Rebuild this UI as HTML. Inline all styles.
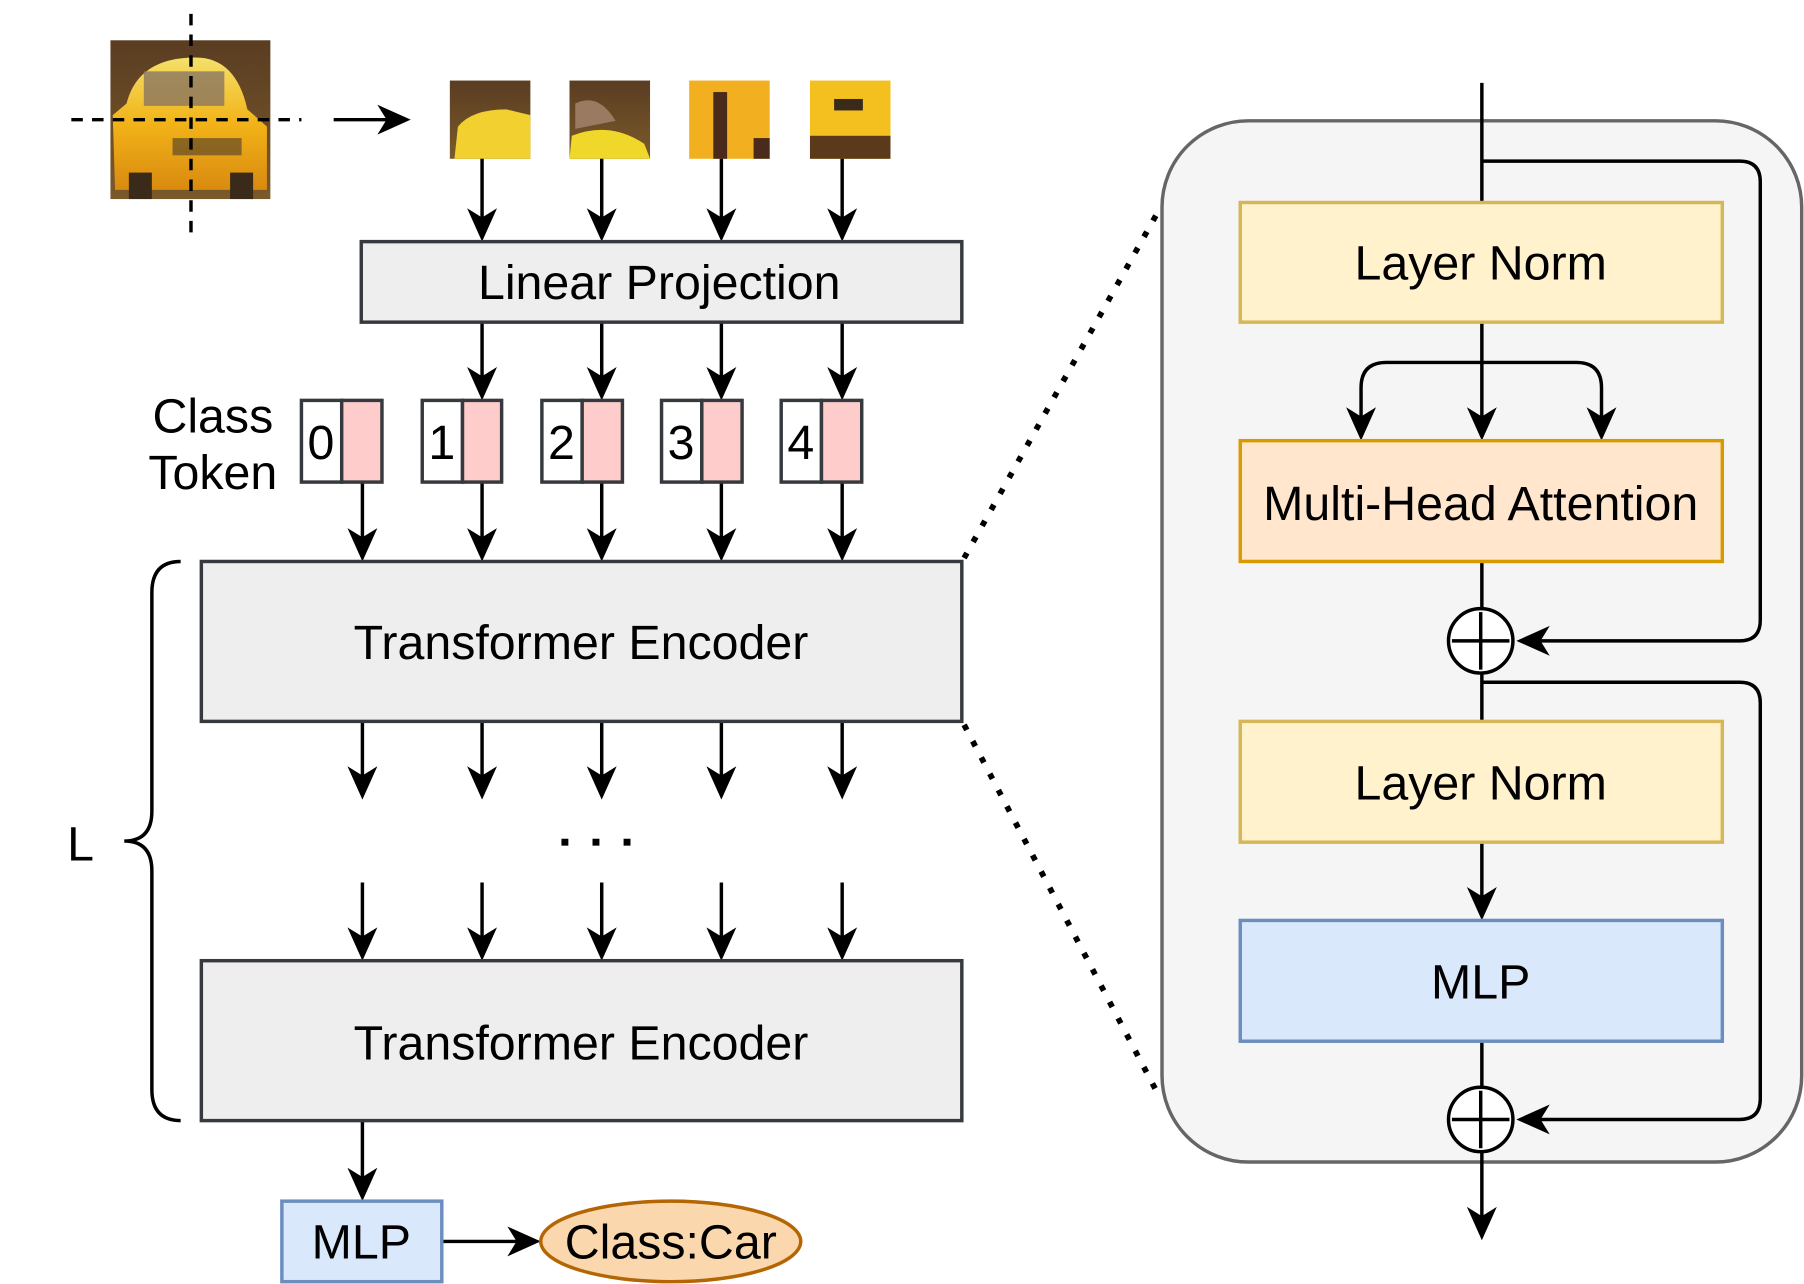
<!DOCTYPE html>
<html><head><meta charset="utf-8"><style>
html,body{margin:0;padding:0;background:#fff;}
svg{display:block;}
text{font-family:"Liberation Sans",sans-serif;fill:#000;}
</style></head><body>
<svg width="1804" height="1284" viewBox="0 0 1568 1116" xmlns="http://www.w3.org/2000/svg">
<defs>
<linearGradient id="bg" x1="0" y1="0" x2="0" y2="1"><stop offset="0" stop-color="#5a3d22"/><stop offset="1" stop-color="#7a5a2a"/></linearGradient>
<linearGradient id="car" x1="0" y1="0" x2="0" y2="1"><stop offset="0" stop-color="#f4e06a"/><stop offset="0.5" stop-color="#f2b318"/><stop offset="1" stop-color="#d98a10"/></linearGradient>
</defs>
<rect x="96" y="35" width="139" height="138" fill="url(#bg)"/>
<path d="M110 90 Q120 50 170 50 Q205 50 215 95 L232 110 L232 165 L100 165 L98 100 Z" fill="url(#car)"/>
<rect x="125" y="62" width="70" height="30" fill="#8a7660" opacity="0.8"/>
<rect x="150" y="120" width="60" height="15" fill="#4a3a2a" opacity="0.6"/>
<rect x="112" y="150" width="20" height="23" fill="#3a2a1a"/>
<rect x="200" y="150" width="20" height="23" fill="#3a2a1a"/>
<g>
<rect x="391" y="70" width="70" height="68" fill="url(#bg)"/>
<path d="M395 138 L398 110 Q410 95 440 95 L461 100 L461 138 Z" fill="#f2d030"/>
<rect x="495" y="70" width="70" height="68" fill="url(#bg)"/>
<path d="M495 138 L497 118 Q530 105 560 125 L565 138 Z" fill="#f0d82a"/>
<path d="M500 90 Q520 80 535 105 L500 112 Z" fill="#9a7a60"/>
<rect x="599" y="70" width="70" height="68" fill="#f2b020"/>
<rect x="620" y="80" width="12" height="58" fill="#4a2a1a"/>
<rect x="655" y="120" width="14" height="18" fill="#4a2a1a"/>
<rect x="704" y="70" width="70" height="68" fill="#f4c020"/>
<rect x="704" y="118" width="70" height="20" fill="#5a3a1a"/>
<rect x="725" y="86" width="25" height="10" fill="#3a2a1a"/>
</g>
<g stroke="#000" stroke-width="3" stroke-dasharray="10,8" fill="none">
<line x1="166" y1="12" x2="166" y2="210"/>
<line x1="62" y1="104" x2="262" y2="104"/>
</g>
<g stroke="#000" stroke-width="3" fill="none">
<line x1="290" y1="104" x2="345" y2="104"/>
</g>
<path d="M357 104 L328 91 L336 104 L328 117 Z" fill="#000"/>
<g stroke="#000" stroke-width="3">
<line x1="419" y1="138" x2="419" y2="200"/><line x1="523" y1="138" x2="523" y2="200"/><line x1="627" y1="138" x2="627" y2="200"/><line x1="732" y1="138" x2="732" y2="200"/>
<line x1="419" y1="280" x2="419" y2="338"/><line x1="523" y1="280" x2="523" y2="338"/><line x1="627" y1="280" x2="627" y2="338"/><line x1="732" y1="280" x2="732" y2="338"/>
<line x1="315" y1="419" x2="315" y2="478"/><line x1="419" y1="419" x2="419" y2="478"/><line x1="523" y1="419" x2="523" y2="478"/><line x1="627" y1="419" x2="627" y2="478"/><line x1="732" y1="419" x2="732" y2="478"/>
<line x1="315" y1="627" x2="315" y2="685"/><line x1="419" y1="627" x2="419" y2="685"/><line x1="523" y1="627" x2="523" y2="685"/><line x1="627" y1="627" x2="627" y2="685"/><line x1="732" y1="627" x2="732" y2="685"/>
<line x1="315" y1="767" x2="315" y2="825"/><line x1="419" y1="767" x2="419" y2="825"/><line x1="523" y1="767" x2="523" y2="825"/><line x1="627" y1="767" x2="627" y2="825"/><line x1="732" y1="767" x2="732" y2="825"/>
<line x1="315" y1="974" x2="315" y2="1034"/>
<line x1="384" y1="1079" x2="460" y2="1079"/>
</g>
<g fill="#000">
<path id="h" d="M0 0 L-13 -29 L0 -21 L13 -29 Z" transform="translate(419,210)"/>
<use href="#h" transform="translate(104,0)"/><use href="#h" transform="translate(208,0)"/><use href="#h" transform="translate(313,0)"/>
<use href="#h" transform="translate(0,138)"/><use href="#h" transform="translate(104,138)"/><use href="#h" transform="translate(208,138)"/><use href="#h" transform="translate(313,138)"/>
<use href="#h" transform="translate(-104,278)"/><use href="#h" transform="translate(0,278)"/><use href="#h" transform="translate(104,278)"/><use href="#h" transform="translate(208,278)"/><use href="#h" transform="translate(313,278)"/>
<use href="#h" transform="translate(-104,485)"/><use href="#h" transform="translate(0,485)"/><use href="#h" transform="translate(104,485)"/><use href="#h" transform="translate(208,485)"/><use href="#h" transform="translate(313,485)"/>
<use href="#h" transform="translate(-104,625)"/><use href="#h" transform="translate(0,625)"/><use href="#h" transform="translate(104,625)"/><use href="#h" transform="translate(208,625)"/><use href="#h" transform="translate(313,625)"/>
<use href="#h" transform="translate(-104,834)"/>
<path d="M470 1079 L441 1066 L449 1079 L441 1092 Z"/>
</g>
<rect x="314" y="210" width="522" height="70" fill="#eeeeee" stroke="#36393d" stroke-width="3"/>
<text x="573" y="260" font-size="42" text-anchor="middle">Linear Projection</text>
<text x="185" y="376" font-size="42" text-anchor="middle">Class</text>
<text x="185" y="425" font-size="42" text-anchor="middle">Token</text>
<g stroke="#36393d" stroke-width="3">
<rect x="262" y="348" width="35" height="71" fill="#fff"/><rect x="297" y="348" width="35" height="71" fill="#ffcccc"/>
<rect x="367" y="348" width="35" height="71" fill="#fff"/><rect x="402" y="348" width="34" height="71" fill="#ffcccc"/>
<rect x="471" y="348" width="35" height="71" fill="#fff"/><rect x="506" y="348" width="35" height="71" fill="#ffcccc"/>
<rect x="575" y="348" width="35" height="71" fill="#fff"/><rect x="610" y="348" width="35" height="71" fill="#ffcccc"/>
<rect x="679" y="348" width="35" height="71" fill="#fff"/><rect x="714" y="348" width="35" height="71" fill="#ffcccc"/>
</g>
<g font-size="42" text-anchor="middle">
<text x="279" y="399">0</text><text x="384" y="399">1</text><text x="488" y="399">2</text><text x="592" y="399">3</text><text x="696" y="399">4</text>
</g>
<rect x="175" y="488" width="661" height="139" fill="#eeeeee" stroke="#36393d" stroke-width="3"/>
<text x="505" y="573" font-size="42" text-anchor="middle">Transformer Encoder</text>
<rect x="175" y="835" width="661" height="139" fill="#eeeeee" stroke="#36393d" stroke-width="3"/>
<text x="505" y="921" font-size="42" text-anchor="middle">Transformer Encoder</text>
<g fill="#000"><rect x="488" y="729" width="6" height="6"/><rect x="515" y="729" width="6" height="6"/><rect x="542" y="729" width="6" height="6"/></g>
<path d="M157 488 Q132 488 132 515 L132 705 Q132 731 108 731 Q132 731 132 757 L132 947 Q132 974 157 974" fill="none" stroke="#000" stroke-width="3"/>
<text x="70" y="748" font-size="42" text-anchor="middle">L</text>
<rect x="245" y="1044" width="139" height="70" fill="#dae8fc" stroke="#6c8ebf" stroke-width="3"/>
<text x="314" y="1094" font-size="42" text-anchor="middle">MLP</text>
<ellipse cx="583" cy="1079" rx="113" ry="35" fill="#fad7ac" stroke="#b46504" stroke-width="3"/>
<text x="583" y="1094" font-size="42" text-anchor="middle">Class:Car</text>
<g stroke="#000" stroke-width="5" stroke-dasharray="5,11" fill="none">
<line x1="838" y1="485" x2="1006" y2="185"/>
<line x1="838" y1="630" x2="1006" y2="950"/>
</g>
<rect x="1010" y="105" width="556" height="905" rx="75" fill="#f5f5f5" stroke="#666" stroke-width="3"/>
<g stroke="#000" stroke-width="3" fill="none">
<line x1="1288" y1="72" x2="1288" y2="176"/>
<line x1="1288" y1="280" x2="1288" y2="372"/>
<path d="M1288 315 L1205 315 Q1183 315 1183 337 L1183 372"/>
<path d="M1288 315 L1370 315 Q1392 315 1392 337 L1392 372"/>
<line x1="1288" y1="488" x2="1288" y2="529"/>
<line x1="1288" y1="585" x2="1288" y2="627"/>
<line x1="1288" y1="732" x2="1288" y2="790"/>
<line x1="1288" y1="905" x2="1288" y2="945"/>
<line x1="1288" y1="1001" x2="1288" y2="1068"/>
<path d="M1288 140 L1512 140 Q1530 140 1530 158 L1530 539 Q1530 557 1512 557 L1326 557"/>
<path d="M1288 593 L1512 593 Q1530 593 1530 611 L1530 955 Q1530 973 1512 973 L1326 973"/>
</g>
<g fill="#000">
<use href="#h" transform="translate(764,173)"/><use href="#h" transform="translate(869,173)"/><use href="#h" transform="translate(973,173)"/>
<use href="#h" transform="translate(869,590)"/>
<use href="#h" transform="translate(869,868)"/>
<path d="M1318 557 L1347 544 L1339 557 L1347 570 Z"/>
<path d="M1318 973 L1347 960 L1339 973 L1347 986 Z"/>
</g>
<rect x="1078" y="176" width="419" height="104" fill="#fff2cc" stroke="#d6b656" stroke-width="3"/>
<text x="1287" y="243" font-size="42" text-anchor="middle">Layer Norm</text>
<rect x="1078" y="383" width="419" height="105" fill="#ffe6cc" stroke="#d79b00" stroke-width="3"/>
<text x="1287" y="452" font-size="42" text-anchor="middle">Multi-Head Attention</text>
<rect x="1078" y="627" width="419" height="105" fill="#fff2cc" stroke="#d6b656" stroke-width="3"/>
<text x="1287" y="695" font-size="42" text-anchor="middle">Layer Norm</text>
<rect x="1078" y="800" width="419" height="105" fill="#dae8fc" stroke="#6c8ebf" stroke-width="3"/>
<text x="1287" y="868" font-size="42" text-anchor="middle">MLP</text>
<g stroke="#000" stroke-width="3" fill="#fff">
<circle cx="1287" cy="557" r="28"/><circle cx="1287" cy="973" r="28"/>
</g>
<g stroke="#000" stroke-width="3">
<line x1="1262" y1="557" x2="1312" y2="557"/><line x1="1287" y1="532" x2="1287" y2="582"/>
<line x1="1262" y1="973" x2="1312" y2="973"/><line x1="1287" y1="948" x2="1287" y2="998"/>
</g>
</svg>
</body></html>
